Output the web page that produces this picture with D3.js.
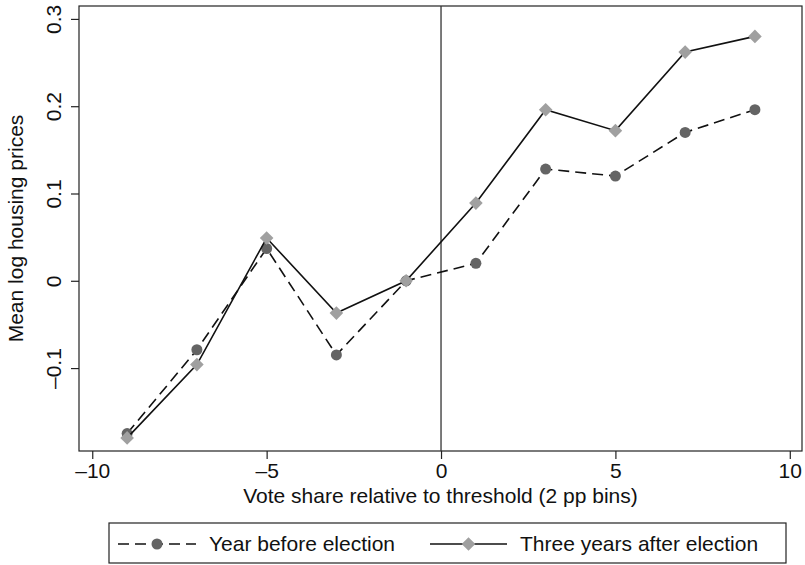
<!DOCTYPE html>
<html>
<head>
<meta charset="utf-8">
<script src="https://cdn.jsdelivr.net/npm/d3@7"></script>
<style>
  body { margin: 0; background: #fff; }
  text { font-family: "Liberation Sans", Arial, sans-serif; fill: #111; }
</style>
</head>
<body>
<div id="chart"></div>
<script>
// Mean log housing prices by vote share bin

var bins = [-9, -7, -5, -3, -1, 1, 3, 5, 7, 9];
var yearBefore = [-0.175, -0.079, 0.037, -0.085, 0, 0.020, 0.128, 0.120, 0.170, 0.196];
var threeAfter = [-0.180, -0.096, 0.049, -0.037, 0, 0.089, 0.196, 0.172, 0.262, 0.280];
var seriesNames = ["Year before election", "Three years after election"];
var xTicks = [-10, -5, 0, 5, 10];
var yTicks = [-0.1, 0, 0.1, 0.2, 0.3];

var width = 805, height = 565;
var margin = { top: 6, left: 79, right: 3, bottom: 114 };
var fontSize = 21;

var svg = d3.select("#chart").append("svg")
    .attr("width", width)
    .attr("height", height);

var x = d3.scaleLinear()
    .domain([-10.38, 10.35])
    .range([margin.left, width - margin.right]);

var y = d3.scaleLinear()
    .domain([-0.195, 0.3148])
    .range([height - margin.bottom, margin.top]);

var plotLeft = x.range()[0], plotRight = x.range()[1];
var plotTop = y.range()[1], plotBottom = y.range()[0];

// Axes
var xAxis = svg.append("g")
    .attr("transform", "translate(0," + plotBottom + ")")
    .call(d3.axisBottom(x).tickValues(xTicks).tickSize(8).tickPadding(4)
      .tickFormat(function(d) { return d < 0 ? "\u2013" + Math.abs(d) : d; }));

var yAxis = svg.append("g")
    .attr("transform", "translate(" + plotLeft + ",0)")
    .call(d3.axisLeft(y).tickValues(yTicks).tickSize(8)
      .tickFormat(function(d) { return d < 0 ? "\u2013" + Math.abs(d) : (d === 0 ? "0" : d3.format(".1f")(d)); }));

svg.selectAll(".domain").remove();
svg.selectAll(".tick line").style("stroke", "#222").style("stroke-width", 1.2);
svg.selectAll(".tick text")
    .style("font-size", fontSize + "px")
    .style("fill", "#111");

yAxis.selectAll(".tick text")
    .attr("x", 0)
    .attr("dy", 0)
    .attr("transform", "translate(-18,0) rotate(-90)")
    .style("text-anchor", "middle");

// Plot box and zero line
svg.append("rect")
    .attr("x", plotLeft)
    .attr("y", plotTop)
    .attr("width", plotRight - plotLeft)
    .attr("height", plotBottom - plotTop)
    .style("fill", "none")
    .style("stroke", "#222")
    .style("stroke-width", 1.2);

svg.append("line")
    .attr("x1", x(0)).attr("x2", x(0))
    .attr("y1", plotTop).attr("y2", plotBottom)
    .style("stroke", "#333")
    .style("stroke-width", 1.3);

// Axis titles
svg.append("text")
    .attr("x", (plotLeft + plotRight) / 2)
    .attr("y", 503)
    .style("text-anchor", "middle")
    .style("font-size", fontSize + "px")
    .text("Vote share relative to threshold (2 pp bins)");

svg.append("text")
    .attr("transform", "translate(23," + (plotTop + plotBottom) / 2 + ") rotate(-90)")
    .style("text-anchor", "middle")
    .style("font-size", fontSize + "px")
    .text("Mean log housing prices");

// Series
var line = d3.line()
    .x(function(d, i) { return x(bins[i]); })
    .y(function(d) { return y(d); });

var diamond = d3.symbol().type(d3.symbolDiamond2).size(118);

svg.append("path")
    .datum(yearBefore)
    .attr("d", line)
    .style("fill", "none")
    .style("stroke", "#111")
    .style("stroke-width", 1.6)
    .style("stroke-dasharray", "11,6");

svg.selectAll(".dot")
    .data(yearBefore)
  .enter().append("circle")
    .attr("class", "dot")
    .attr("cx", function(d, i) { return x(bins[i]); })
    .attr("cy", function(d) { return y(d); })
    .attr("r", 5.5)
    .style("fill", "#646464");

svg.append("path")
    .datum(threeAfter)
    .attr("d", line)
    .style("fill", "none")
    .style("stroke", "#111")
    .style("stroke-width", 1.6);

svg.selectAll(".diamond")
    .data(threeAfter)
  .enter().append("path")
    .attr("class", "diamond")
    .attr("transform", function(d, i) { return "translate(" + x(bins[i]) + "," + y(d) + ")"; })
    .attr("d", diamond)
    .style("fill", "#a0a0a0");

// Legend
var legend = svg.append("g");

legend.append("rect")
    .attr("x", 109)
    .attr("y", 523)
    .attr("width", 677)
    .attr("height", 40)
    .style("fill", "#fff")
    .style("stroke", "#222")
    .style("stroke-width", 1.2);

var keys = [
  { name: seriesNames[0], x0: 118, x1: 196, tx: 209, dash: "11,6", marker: "circle" },
  { name: seriesNames[1], x0: 430, x1: 507, tx: 520, dash: null, marker: "diamond" }
];

var key = legend.selectAll(".key")
    .data(keys)
  .enter().append("g")
    .attr("class", "key");

key.append("line")
    .attr("x1", function(d) { return d.x0; })
    .attr("x2", function(d) { return d.x1; })
    .attr("y1", 544).attr("y2", 544)
    .style("stroke", "#111")
    .style("stroke-width", 1.6)
    .style("stroke-dasharray", function(d) { return d.dash; });

key.each(function(d) {
  var cx = (d.x0 + d.x1) / 2;
  if (d.marker === "circle") {
    d3.select(this).append("circle")
      .attr("cx", cx).attr("cy", 544).attr("r", 5.5)
      .style("fill", "#646464");
  } else {
    d3.select(this).append("path")
      .attr("transform", "translate(" + cx + ",544)")
      .attr("d", diamond)
      .style("fill", "#a0a0a0");
  }
});

key.append("text")
    .attr("x", function(d) { return d.tx; })
    .attr("y", 551)
    .style("font-size", fontSize + "px")
    .text(function(d) { return d.name; });
</script>
</body>
</html>
